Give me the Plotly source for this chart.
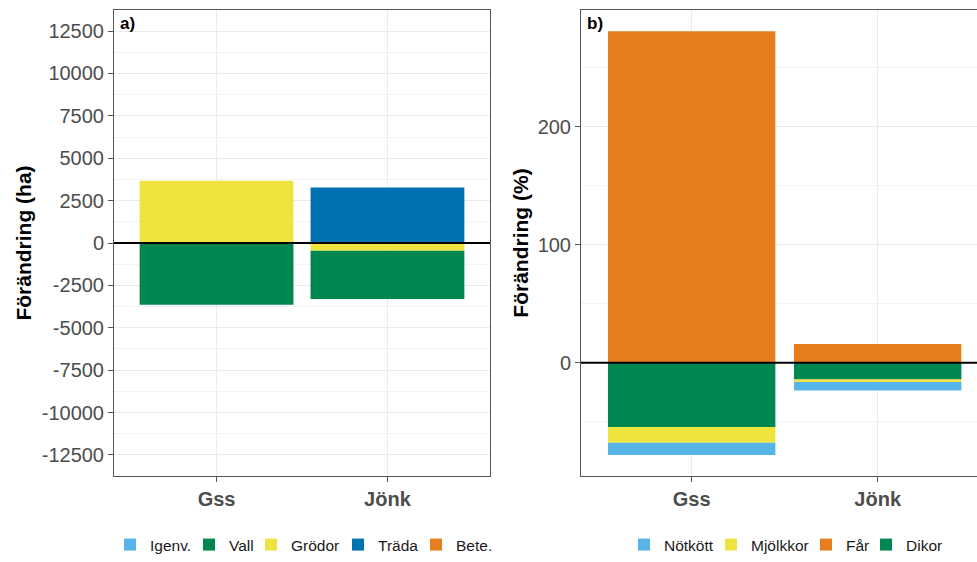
import plotly.graph_objects as go

regions = ["Gss", "Jönk"]

# Panel a (ha)
land_names = ["Igenv.", "Vall", "Grödor", "Träda", "Bete."]
land_colors = ["#56B4E9", "#00874F", "#EFE33F", "#0072B2", "#E67E1E"]
igenv = [0, 0]
vall = [-3640, -2850]
grodor = [3670, -450]
trada = [0, 3280]
bete = [0, 0]
land_vals = [igenv, vall, grodor, trada, bete]

# Panel b (%)
animal_names = ["Nötkött", "Mjölkkor", "Får", "Dikor"]
animal_colors = ["#56B4E9", "#EFE33F", "#E67E1E", "#00874F"]
notkott = [-10.4, -7.3]
mjolkkor = [-13.3, -2.2]
far = [281, 15.8]
dikor = [-54.5, -14.1]
animal_vals = [notkott, mjolkkor, far, dikor]

W, H = 977, 562

# legend key left edges (px) for each legend entry
land_key_x = [124, 203, 265, 352, 430]
animal_key_x = [638, 725, 820, 880]

fig = go.Figure()
legends = {}


def legend_name(i):
    return f"legend{i + 2}"


def add_legend(i, xpx):
    legends[legend_name(i)] = dict(
        orientation="h", x=(xpx - 14) / W, y=0, xanchor="left", yanchor="bottom",
        font=dict(size=15.5, color="#1A1A1A"), bgcolor="rgba(0,0,0,0)")


# plotly stacks first trace closest to zero -> add in reverse of legend order
items_a = list(zip(land_names, land_colors, land_vals, land_key_x))
for idx in reversed(range(len(items_a))):
    name, col, vals, kx = items_a[idx]
    add_legend(idx, kx)
    fig.add_trace(go.Bar(x=regions, y=vals, name=name, marker_color=col,
                         marker_line_width=0, width=0.9, showlegend=True,
                         xaxis="x", yaxis="y", legend=legend_name(idx)))
items_b = list(zip(animal_names, animal_colors, animal_vals, animal_key_x))
for idx in reversed(range(len(items_b))):
    name, col, vals, kx = items_b[idx]
    li = len(items_a) + idx
    add_legend(li, kx)
    fig.add_trace(go.Bar(x=regions, y=vals, name=name, marker_color=col,
                         marker_line_width=0, width=0.9, showlegend=True,
                         xaxis="x2", yaxis="y2", legend=legend_name(li)))

top = 1 - 10 / H
bot = 1 - 476 / H

axis_common = dict(showgrid=True, gridcolor="#EBEBEB", gridwidth=1,
                   showline=True, linecolor="#555555", linewidth=1,
                   ticks="outside", ticklen=5, tickcolor="#555555",
                   zeroline=False)

fig.update_layout(
    width=W, height=H,
    margin=dict(l=0, r=0, t=0, b=0),
    paper_bgcolor="white", plot_bgcolor="white",
    barmode="relative", showlegend=True,
    font=dict(family="Liberation Sans, Arial, sans-serif", color="#4D4D4D"),
    xaxis=dict(domain=[114 / W, 490 / W], range=[-0.6, 1.6], anchor="y",
               mirror=True, tickfont=dict(size=20, color="#4D4D4D"),
               tickprefix="<b>", ticksuffix="</b>", **axis_common),
    yaxis=dict(domain=[bot, top], range=[-13740, 13740], anchor="x",
               mirror=True, tickvals=[-12500, -10000, -7500, -5000, -2500, 0,
                                      2500, 5000, 7500, 10000, 12500],
               ticktext=["-12500", "-10000", "-7500", "-5000", "-2500", "0",
                         "2500", "5000", "7500", "10000", "12500"],
               tickfont=dict(size=20, color="#4D4D4D"),
               minor=dict(tickvals=[-11250, -8750, -6250, -3750, -1250,
                                    1250, 3750, 6250, 8750, 11250],
                          showgrid=True, gridcolor="#F3F3F3", ticks=""),
               title=dict(text="<b>Förändring (ha)</b>", standoff=4,
                          font=dict(size=21, color="black")),
               **axis_common),
    xaxis2=dict(domain=[581 / W, 1.0], range=[-0.595, 1.534], anchor="y2",
                mirror=True, tickfont=dict(size=20, color="#4D4D4D"),
                tickprefix="<b>", ticksuffix="</b>", **axis_common),
    yaxis2=dict(domain=[bot, top], range=[-96, 299], anchor="x2",
                mirror=False, tickvals=[0, 100, 200],
                tickfont=dict(size=20, color="#4D4D4D"),
                minor=dict(tickvals=[-50, 50, 150, 250], showgrid=True,
                           gridcolor="#F3F3F3", ticks=""),
                title=dict(text="<b>Förändring (%)</b>", standoff=3,
                           font=dict(size=21, color="black")),
                **axis_common),
    shapes=[
        dict(type="line", xref="x domain", yref="y", x0=0, x1=1, y0=0, y1=0,
             line=dict(color="black", width=2)),
        dict(type="line", xref="x2 domain", yref="y2", x0=0, x1=1, y0=0, y1=0,
             line=dict(color="black", width=2)),
    ],
    annotations=[
        dict(text="<b>a)</b>", xref="paper", yref="paper", x=118 / W, y=1 - 12 / H,
             xanchor="left", yanchor="top", showarrow=False,
             font=dict(size=17, color="black")),
        dict(text="<b>b)</b>", xref="paper", yref="paper", x=585 / W, y=1 - 12 / H,
             xanchor="left", yanchor="top", showarrow=False,
             font=dict(size=17, color="black")),
    ],
)
fig.update_layout(**legends)

fig.write_html("out.html")
